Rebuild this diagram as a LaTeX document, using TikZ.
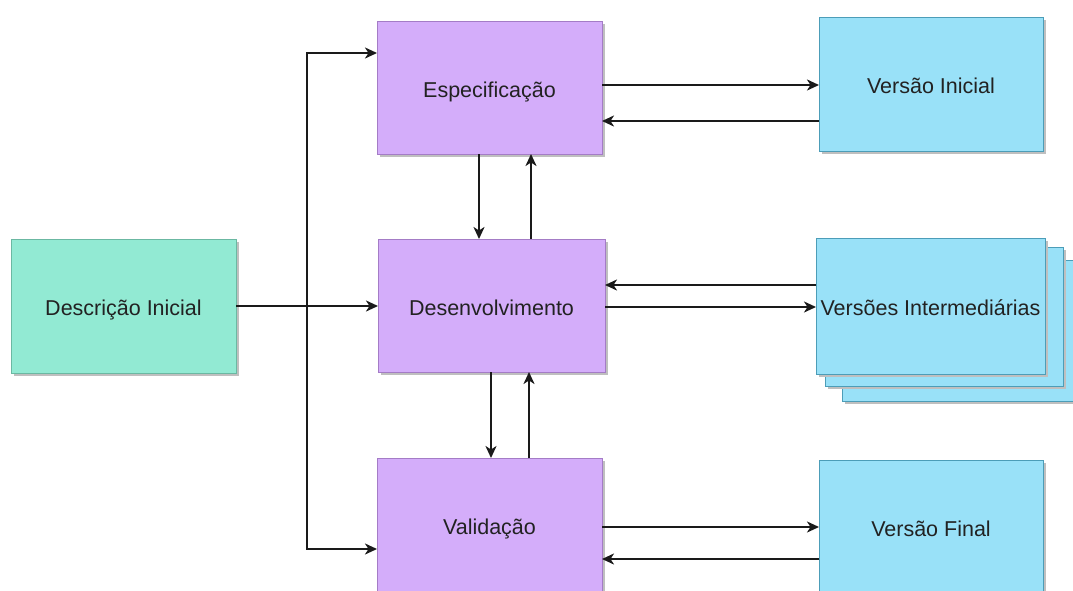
\documentclass[tikz,border=0pt]{standalone}
\usepackage{fontspec}
\setmainfont{Liberation Sans}
\usetikzlibrary{arrows.meta,calc,shadows}
\definecolor{purfill}{HTML}{D4ADFA}
\definecolor{purdraw}{HTML}{A47CC6}
\definecolor{tealfill}{HTML}{92EAD3}
\definecolor{tealdraw}{HTML}{6BB8A2}
\definecolor{bluefill}{HTML}{99E1F8}
\definecolor{bluedraw}{HTML}{4C9DB8}
\definecolor{txt}{HTML}{222222}
\definecolor{linec}{HTML}{1A1A1A}
\begin{document}
\begin{tikzpicture}[x=1pt,y=-1pt,
  base/.style={draw, line width=1pt, inner sep=0pt, outer sep=0pt, text=txt,
    font=\fontsize{21.5}{26}\selectfont, text height=19.4pt, text depth=0pt,
    drop shadow={shadow xshift=3pt, shadow yshift=-3pt, fill=black!25, opacity=1}},
  purbox/.style={base, fill=purfill, draw=purdraw},
  tealbox/.style={base, fill=tealfill, draw=tealdraw},
  bluebox/.style={base, fill=bluefill, draw=bluedraw},
  conn/.style={draw=linec, line width=2pt},
  arr/.style={conn, -{Stealth[length=12pt,width=11pt,inset=3.5pt]}}]
\useasboundingbox (0,0) rectangle (1073,590);
\clip (0,0) rectangle (1073,590);

% nodes
\node[tealbox, minimum width=225pt, minimum height=134pt] (desc) at (123.5,306) {Descrição Inicial};
\node[purbox, minimum width=225pt, minimum height=133pt] (esp) at (489.5,87.5) {Especificação};
\node[purbox, minimum width=227pt, minimum height=133pt] (dev) at (491.5,305.5) {Desenvolvimento};
\node[purbox, minimum width=225pt, minimum height=133pt] (val) at (489.5,524.5) {Validação};
\node[bluebox, minimum width=224pt, minimum height=134pt] (vi) at (931,84) {Versão Inicial};
\node[bluebox, minimum width=224pt, minimum height=133pt] (vf) at (931,526.5) {Versão Final};
\node[bluebox, minimum width=244pt, minimum height=141pt] (vint3) at (964,330.5) {};
\node[bluebox, minimum width=238pt, minimum height=139pt] (vint2) at (944,316.5) {};
\node[bluebox, minimum width=229pt, minimum height=136pt] (vint) at (930.5,306) {Versões Intermediárias};

% left branch
\coordinate (split) at ([xshift=71pt]desc.east);
\draw[conn, line width=2.8pt] (desc.east) -- (split);
\draw[arr] (split) -- (split -| dev.west);
\draw[arr] (split) |- ([yshift=34.5pt]esp.west);
\draw[arr] (split) |- ([yshift=-24.5pt]val.west);

% Especificacao <-> Versao Inicial
\coordinate (a1) at ([yshift=2.5pt]esp.east);
\coordinate (a2) at ([yshift=-33.5pt]esp.east);
\draw[arr] (a1) -- (a1 -| vi.west);
\draw[arr] (a2 -| vi.west) -- (a2);

% Especificacao <-> Desenvolvimento
\coordinate (b1) at ([xshift=-10.5pt]esp.south);
\coordinate (b2) at ([xshift=41.5pt]esp.south);
\draw[arr] (b1) -- (b1 |- dev.north);
\draw[arr] (b2 |- dev.north) -- (b2);

% Desenvolvimento <-> Versoes Intermediarias
\coordinate (c1) at ([yshift=21pt]vint.west);
\coordinate (c2) at ([yshift=-1.5pt]dev.east);
\draw[arr] (c1) -- (c1 -| dev.east);
\draw[arr] (c2) -- (c2 -| vint.west);

% Desenvolvimento <-> Validacao
\coordinate (d1) at ([xshift=-0.5pt]dev.south);
\coordinate (d2) at ([xshift=37.5pt]dev.south);
\draw[arr] (d1) -- (d1 |- val.north);
\draw[arr] (d2 |- val.north) -- (d2);

% Validacao <-> Versao Final
\coordinate (e1) at ([yshift=-2.5pt]val.east);
\coordinate (e2) at ([yshift=-34.5pt]val.east);
\draw[arr] (e1) -- (e1 -| vf.west);
\draw[arr] (e2 -| vf.west) -- (e2);
\end{tikzpicture}
\end{document}
